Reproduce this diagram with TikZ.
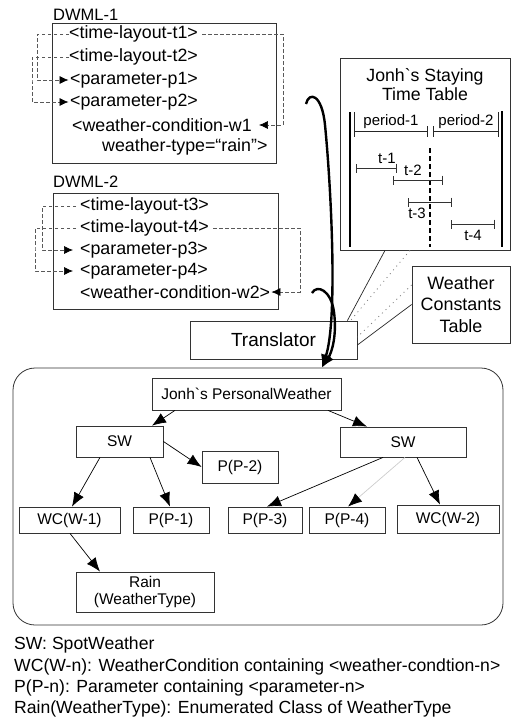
\documentclass[tikz,border=0pt]{standalone}
\usepackage{fontspec}
\newfontfamily\lsans{Liberation Sans}
\usetikzlibrary{arrows.meta}

\begin{document}
\begin{tikzpicture}[x=1pt,y=-1pt,
  every node/.style={font=\lsans},
  frameline/.style={draw=black!80, line width=0.8pt},
  code/.style={anchor=west, inner sep=0pt, font=\lsans\fontsize{17.8}{21}\selectfont},
  title/.style={anchor=west, inner sep=0pt, font=\lsans\fontsize{16.5}{19}\selectfont},
  box/.style={frameline, inner sep=0pt, align=center, font=\lsans\fontsize{15.5}{17}\selectfont},
  bigbox/.style={frameline, inner sep=0pt, align=center},
  treearrow/.style={draw=black, line width=0.7pt, -{Latex[length=14pt,width=11pt]}},
  dashlink/.style={draw=black!65, line width=0.7pt, dash pattern=on 3.5pt off 2.5pt},
  dasharrow/.style={dashlink, -{Latex[length=9pt,width=8pt,black]}},
  bigarrow/.style={draw=black, line width=2.4pt, -{Latex[length=13pt,width=11pt]}},
  thinlink/.style={draw=black!85, line width=0.7pt},
  dotlink/.style={draw=black!50, line width=0.8pt, dash pattern=on 1pt off 4pt},
  interval/.style={draw=black!80, line width=0.8pt, {Bar[width=9pt]}-{Bar[width=9pt]}},
  tlabel/.style={inner sep=0pt, font=\lsans\fontsize{15}{17}\selectfont},
  legend/.style={anchor=west, inner sep=0pt, font=\lsans\fontsize{17.6}{21}\selectfont}
]
\useasboundingbox (0,0) rectangle (513,724);

% ---------- DWML-1 document ----------
\node[title] (lab1) at (53,15) {DWML-1};
\node[bigbox, minimum width=224pt, minimum height=140pt] (dw1) at (164,93) {};
\node[code] (t1) at (69,34) {<time-layout-t1>};
\node[code] (t2) at (69,57) {<time-layout-t2>};
\node[code] (p1) at (70,80) {<parameter-p1>};
\node[code] (p2) at (70,102) {<parameter-p2>};
\node[code] (w1) at (72,125) {<weather-condition-w1};
\node[code] (wt1) at (102,147) {weather-type=“rain”>};

\coordinate (l1) at (37,60);
\coordinate (l2) at (32,80);
\coordinate (r1) at (283,80);
\draw[dasharrow, shorten >=1.5pt] (t1.west) -| (l1) |- (p1.west);
\draw[dasharrow, shorten >=1.5pt] (t2.west) -| (l2) |- (p2.west);
\draw[dasharrow, shorten <=4pt, shorten >=7pt] (t1.east) -| (r1) |- (w1.east);

% ---------- DWML-2 document ----------
\node[title] (lab2) at (53,182) {DWML-2};
\node[bigbox, minimum width=225pt, minimum height=116pt] (dw2) at (165.5,251) {};
\node[code] (t3) at (80,206) {<time-layout-t3>};
\node[code] (t4) at (80,228) {<time-layout-t4>};
\node[code] (p3) at (80,250) {<parameter-p3>};
\node[code] (p4) at (80,271) {<parameter-p4>};
\node[code] (w2) at (80,292) {<weather-condition-w2>};

\coordinate (l3) at (42,230);
\coordinate (l4) at (35,250);
\coordinate (r2) at (300,260);
\draw[dasharrow, shorten <=4pt, shorten >=7pt] (t3.west) -| (l3) |- (p3.west);
\draw[dasharrow, shorten <=4pt, shorten >=7pt] (t4.west) -| (l4) |- (p4.west);
\draw[dasharrow, shorten <=4pt, shorten >=1pt] (t4.east) -| (r2) |- (w2.east);

% ---------- staying time table ----------
\node[bigbox, minimum width=170pt, minimum height=192pt] (tt) at (425,154) {};
\node[inner sep=0pt, align=center, font=\lsans\fontsize{17.7}{19.5}\selectfont] (ttl) at (425,84.5) {Jonh`s Staying\\Time Table};
\draw[line width=2pt] (350,112) -- (350,247);
\draw[line width=2pt] (502,111) -- (502,247);
\draw[thinlink] (354,112) -- (354,137);
\draw[thinlink] (354,131) -- (427,131);
\draw[thinlink] (427,126) -- (427,137);
\draw[thinlink] (433,126) -- (433,137);
\draw[thinlink] (433,131) -- (498,131);
\draw[thinlink] (498,112) -- (498,137);
\node[tlabel] (per1) at (391,122) {period-1};
\node[tlabel] (per2) at (466,122) {period-2};
\draw[line width=1.3pt, dash pattern=on 5pt off 3pt] (430,148) -- (430,247);
\draw[interval] (356,168) -- (397,168);
\draw[interval] (393,180) -- (443,180);
\draw[interval] (408,202) -- (452,202);
\draw[interval] (451,224) -- (495,224);
\node[tlabel] (lt1) at (387,158) {t-1};
\node[tlabel] (lt2) at (413,170) {t-2};
\node[tlabel] (lt3) at (417,213) {t-3};
\node[tlabel] (lt4) at (473,235) {t-4};

% ---------- weather constants and translator ----------
\node[bigbox, minimum width=98pt, minimum height=77pt, font=\lsans\fontsize{17.9}{21.5}\selectfont] (wct) at (461,304.5) {Weather\\Constants\\Table};
\node[bigbox, minimum width=167pt, minimum height=38pt, font=\lsans\fontsize{19}{22}\selectfont] (tr) at (273.5,340) {Translator};

\draw[thinlink] ([xshift=-40pt]tt.south) -- ([xshift=-10pt]tr.north east);
\draw[dotlink] ([xshift=-15pt]tt.south) -- ([xshift=-7pt]tr.north east);
\draw[dotlink] ([yshift=19.5pt]wct.west) -- ([yshift=3pt]tr.east);
\draw[thinlink] (wct.west) -- ([yshift=-5pt]tr.east);

% ---------- object tree ----------
\node[frameline, rounded corners=22pt, minimum width=490pt, minimum height=257pt, inner sep=0pt] (frame) at (258,496.5) {};

\node[box, minimum width=189pt, minimum height=32pt] (pw) at (246.5,394) {Jonh`s PersonalWeather};
\node[box, minimum width=87pt, minimum height=31pt] (swl) at (119.5,441.5) {SW};
\node[box, minimum width=126pt, minimum height=30pt] (swr) at (403,442) {SW};
\node[box, minimum width=76pt, minimum height=32pt] (pp2) at (240,467) {P(P-2)};
\node[box, minimum width=101pt, minimum height=26pt] (wc1) at (69.5,520) {WC(W-1)};
\node[box, minimum width=76pt, minimum height=26pt] (pp1) at (171,520) {P(P-1)};
\node[box, minimum width=74pt, minimum height=26pt] (pp3) at (265,520) {P(P-3)};
\node[box, minimum width=76pt, minimum height=26pt] (pp4) at (347,520) {P(P-4)};
\node[box, minimum width=102pt, minimum height=28pt] (wc2) at (448,519) {WC(W-2)};
\node[box, minimum width=138pt, minimum height=40pt] (rain) at (145,592) {Rain\\(WeatherType)};

\draw[treearrow] ([xshift=-71.5pt]pw.south) -- ([xshift=32.5pt]swl.north);
\draw[treearrow] ([xshift=81.5pt]pw.south) -- ([xshift=-36pt]swr.north);
\draw[treearrow] (swl.east) -- (pp2.west);
\draw[treearrow] ([xshift=-19.5pt]swl.south) -- ([xshift=2.5pt]wc1.north);
\draw[treearrow] ([xshift=30.5pt]swl.south) -- ([xshift=-1pt]pp1.north);
\draw[treearrow] ([xshift=-20pt]swr.south) -- ([xshift=2pt]pp3.north);
\draw[treearrow, draw=black!20, -{Latex[length=14pt,width=11pt,black]}] ([xshift=2pt]swr.south) -- ([xshift=1pt]pp4.north);
\draw[treearrow] ([xshift=14pt]swr.south) -- ([xshift=-8pt]wc2.north);
\draw[treearrow] ([xshift=0.5pt]wc1.south) -- ([xshift=-45pt]rain.north);

% ---------- documents flowing into the translator ----------
\coordinate (h1) at (306,104);
\coordinate (h2) at (312,293);
\draw[bigarrow] (h1) .. controls (309,91) and (322,94) .. (325,125)
  .. controls (331,185) and (338,320) .. ([xshift=64pt]frame.north);
\draw[bigarrow] (h2) .. controls (317,284) and (331,290) .. (334,312)
  .. controls (337,335) and (332,352) .. ([xshift=64pt]frame.north);

% ---------- legend ----------
\node[legend] (lg1) at (14,645) {SW: SpotWeather};
\node[legend] (lg2) at (14,667) {WC(W-n): WeatherCondition containing <weather-condtion-n>};
\node[legend] (lg3) at (14,688) {P(P-n): Parameter containing <parameter-n>};
\node[legend] (lg4) at (14,709) {Rain(WeatherType): Enumerated Class of WeatherType};
\end{tikzpicture}
\end{document}
